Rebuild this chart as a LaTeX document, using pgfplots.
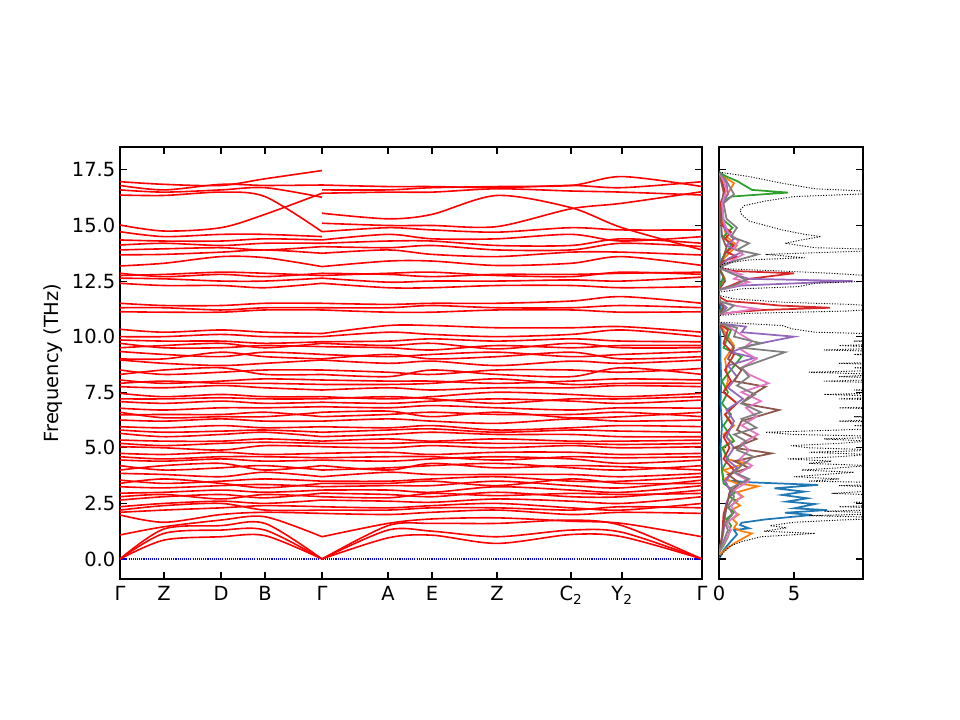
\documentclass[border=0pt]{standalone}
\usepackage{fontspec}
\setmainfont{DejaVu Sans}
\usepackage{pgfplots}
\pgfplotsset{compat=1.18}
\definecolor{cB}{HTML}{1F77B4}
\definecolor{cO}{HTML}{FF7F0E}
\definecolor{cG}{HTML}{2CA02C}
\definecolor{cR}{HTML}{D62728}
\definecolor{cP}{HTML}{9467BD}
\definecolor{cBr}{HTML}{8C564B}
\definecolor{cPk}{HTML}{E377C2}
\definecolor{cGr}{HTML}{7F7F7F}
\pgfplotsset{band/.style={color=red, line width=1.2pt, smooth, no markers},
  pd/.style={line width=1.3pt, no markers}}
\def\bL#1 #2 #3 #4 #5;{\addplot[band] coordinates {(0,#1)(44,#2)(101,#3)(145,#4)(202,#5)};}
\def\bR#1 #2 #3 #4 #5 #6 #7;{\addplot[band] coordinates {(202,#1)(268,#2)(312,#3)(377,#4)(451,#5)(502,#6)(582,#7)};}
\begin{document}
\begin{tikzpicture}
\path[use as bounding box] (0,0) rectangle (720pt,540pt);
\begin{axis}[at={(90pt,105.75pt)}, anchor=south west, scale only axis,
  width=436.5pt, height=324pt,
  xmin=0, xmax=582, ymin=-0.9, ymax=18.53,
  xtick={0,44,101,145,202,268,312,377,451,502,582},
  xticklabels={Γ,Z,D,B,Γ,A,E,Z,C\textsubscript{2},Y\textsubscript{2},Γ},
  ytick={0,2.5,5,7.5,10,12.5,15,17.5},
  yticklabel style={/pgf/number format/.cd, fixed, fixed zerofill, precision=1},
  /pgf/number format/assume math mode=true,
  tick align=inside, major tick length=5pt,
  every tick/.style={black, line width=0.8pt},
  axis line style={line width=0.8pt},
  ylabel={Frequency (THz)},
  label style={font=\fontsize{14.6}{17}\selectfont},
  ticklabel style={font=\fontsize{14.6}{17}\selectfont},
  xticklabel style={yshift=-2pt},
]
\addplot[color=blue, line width=0.8pt, dash pattern=on 0.8pt off 0.8pt] coordinates {(0,0)(582,0)};
% left segment: Gamma Z D B Gamma
\bL 0 0.85 1.0 1.05 0;
\bL 0 1.15 1.3 1.3 0;
\bL 0 1.35 1.5 1.6 0;
\bL 1.08 1.45 1.75 1.9 1.0;
\bL 1.98 1.65 2.0 2.1 2.05;
\bL 2.1 2.2 2.3 2.4 2.35;
\bL 2.2 2.4 2.5 2.2 2.2;
\bL 2.35 2.5 2.6 2.5 2.65;
\bL 2.65 2.8 2.9 2.75 2.96;
\bL 2.8 2.9 2.7 2.9 2.8;
\bL 2.96 3.0 3.1 3.0 3.1;
\bL 3.25 3.2 3.3 3.35 3.25;
\bL 3.4 3.6 3.4 3.2 3.4;
\bL 3.55 3.4 3.5 3.6 3.5;
\bL 3.85 3.8 3.7 3.9 3.7;
\bL 4.0 4.2 4.3 4.0 4.2;
\bL 4.2 4.0 4.1 4.2 4.0;
\bL 4.45 4.4 4.5 4.4 4.45;
\bL 4.6 4.5 4.6 4.6 4.55;
\bL 4.75 4.7 4.8 4.7 4.75;
\bL 5.05 5.0 4.9 5.1 5.05;
\bL 5.2 5.1 5.2 5.25 5.2;
\bL 5.35 5.3 5.3 5.4 5.3;
\bL 5.65 5.5 5.6 5.7 5.5;
\bL 5.8 5.7 5.75 5.8 5.7;
\bL 5.95 5.9 6.0 5.9 5.95;
\bL 6.25 6.2 6.3 6.2 6.2;
\bL 6.48 6.5 6.5 6.6 6.4;
\bL 6.6 6.35 6.4 6.4 6.6;
\bL 6.78 6.7 6.8 6.8 6.85;
\bL 7.08 7.0 7.1 7.0 7.05;
\bL 7.2 7.2 7.25 7.2 7.2;
\bL 7.45 7.3 7.4 7.3 7.3;
\bL 7.75 7.7 7.8 7.7 7.6;
\bL 7.9 8.0 7.9 7.9 7.85;
\bL 8.05 7.9 8.0 8.1 8.05;
\bL 8.3 8.5 8.6 8.3 8.3;
\bL 8.5 8.3 8.4 8.5 8.5;
\bL 8.95 8.8 8.7 8.8 8.95;
\bL 9.0 9.0 9.3 9.1 9.0;
\bL 9.33 9.2 9.1 9.3 9.2;
\bL 9.5 9.6 9.7 9.5 9.7;
\bL 9.7 9.5 9.5 9.6 9.55;
\bL 9.85 9.8 9.8 9.7 9.77;
\bL 10.0 10.0 10.1 10.0 10.0;
\bL 10.33 10.2 10.3 10.2 10.14;
\bL 11.12 11.1 11.1 11.2 11.2;
\bL 11.3 11.3 11.2 11.3 11.3;
\bL 11.5 11.4 11.4 11.5 11.5;
\bL 12.4 12.3 12.3 12.2 12.4;
\bL 12.63 12.6 12.5 12.5 12.63;
\bL 12.75 12.8 12.9 12.85 12.75;
\bL 12.85 12.7 12.8 12.7 12.85;
\bL 13.18 13.3 13.6 13.55 13.15;
\bL 13.68 13.7 13.8 13.9 13.75;
\bL 13.9 13.95 14.0 13.9 14.05;
\bL 14.12 14.2 14.1 14.2 14.2;
\bL 14.35 14.3 14.3 14.4 14.35;
\bL 14.72 14.5 14.6 14.6 14.5;
\bL 15.02 14.75 14.9 15.5 16.45;
\bL 16.37 16.35 16.5 16.3 14.72;
\bL 16.6 16.5 16.6 16.7 16.27;
\bL 16.8 16.6 16.85 16.8 16.82;
\bL 16.97 16.85 16.8 17.1 17.47;
% right segment: Gamma A E Z C2 Y2 Gamma
\bR 0 0.95 1.07 0.7 1.1 1.0 0;
\bR 0 1.3 1.25 1.0 1.3 1.2 0;
\bR 0 1.5 1.6 1.6 1.75 1.5 0;
\bR 1.0 1.6 1.8 1.85 1.7 1.6 1.0;
\bR 2.05 2.0 2.1 2.2 2.0 2.1 2.05;
\bR 2.2 2.2 2.3 2.3 2.2 2.35 2.3;
\bR 2.35 2.3 2.4 2.5 2.3 2.2 2.5;
\bR 2.65 2.6 2.55 2.7 2.6 2.5 2.8;
\bR 2.8 2.75 2.95 2.85 2.95 2.9 2.95;
\bR 2.96 2.9 2.8 3.0 2.8 2.8 3.1;
\bR 3.1 3.1 3.0 3.25 3.1 3.0 3.3;
\bR 3.25 3.3 3.3 3.5 3.3 3.2 3.55;
\bR 3.4 3.4 3.5 3.3 3.6 3.4 3.4;
\bR 3.5 3.5 3.6 3.7 3.5 3.5 3.7;
\bR 3.7 3.9 3.8 3.8 3.8 3.7 3.85;
\bR 4.0 4.1 4.2 4.3 4.1 4.0 4.2;
\bR 4.2 4.0 4.3 4.1 4.2 4.15 4.0;
\bR 4.45 4.4 4.5 4.6 4.5 4.3 4.45;
\bR 4.55 4.6 4.6 4.45 4.6 4.55 4.6;
\bR 4.75 4.8 4.7 4.8 4.8 4.7 4.75;
\bR 5.05 5.0 5.1 5.0 5.1 5.0 5.05;
\bR 5.2 5.2 5.25 5.2 5.2 5.15 5.2;
\bR 5.3 5.4 5.3 5.4 5.3 5.3 5.35;
\bR 5.5 5.6 5.7 5.6 5.6 5.5 5.5;
\bR 5.7 5.8 5.85 5.7 5.8 5.75 5.7;
\bR 5.95 5.9 6.0 5.8 5.9 6.0 5.95;
\bR 6.2 6.3 6.2 6.1 6.3 6.2 6.25;
\bR 6.4 6.5 6.6 6.5 6.5 6.6 6.4;
\bR 6.6 6.65 6.4 6.6 6.35 6.4 6.6;
\bR 6.85 6.8 6.9 6.8 6.7 6.8 6.78;
\bR 7.05 7.0 7.1 7.2 7.1 7.0 7.15;
\bR 7.2 7.3 7.2 7.0 7.2 7.2 7.3;
\bR 7.3 7.2 7.3 7.5 7.4 7.3 7.45;
\bR 7.6 7.7 7.6 7.7 7.7 7.8 7.75;
\bR 7.85 7.85 7.9 8.1 7.85 7.9 7.9;
\bR 8.05 8.0 8.0 7.9 8.0 8.1 8.05;
\bR 8.3 8.2 8.5 8.3 8.2 8.6 8.3;
\bR 8.5 8.4 8.3 8.5 8.5 8.4 8.57;
\bR 8.95 8.8 8.9 8.7 8.9 8.8 8.95;
\bR 9.0 9.2 9.0 9.1 9.3 9.0 9.1;
\bR 9.2 9.1 9.2 9.3 9.1 9.2 9.33;
\bR 9.55 9.5 9.4 9.6 9.5 9.6 9.6;
\bR 9.7 9.6 9.7 9.45 9.7 9.5 9.5;
\bR 9.77 9.8 9.9 9.8 9.9 9.8 9.77;
\bR 10.0 10.2 10.1 10.0 10.1 10.3 10.0;
\bR 10.14 10.5 10.5 10.4 10.4 10.45 10.2;
\bR 11.2 11.1 11.1 11.2 11.2 11.1 11.12;
\bR 11.3 11.3 11.4 11.3 11.3 11.4 11.3;
\bR 11.5 11.45 11.5 11.5 11.6 11.8 11.5;
\bR 12.4 12.2 12.2 12.3 12.3 12.2 12.25;
\bR 12.63 12.45 12.5 12.5 12.55 12.5 12.68;
\bR 12.75 12.85 12.9 12.75 12.7 12.9 12.8;
\bR 12.85 12.8 12.7 12.8 12.8 12.85 12.9;
\bR 13.15 13.4 13.4 13.2 13.3 13.6 13.2;
\bR 13.75 13.9 13.7 13.6 13.8 13.8 13.67;
\bR 14.05 14.0 14.1 13.9 13.9 14.2 14.05;
\bR 14.2 14.3 14.3 14.1 14.1 14.4 14.2;
\bR 14.35 14.6 14.4 14.4 14.6 14.3 14.5;
\bR 14.72 14.9 14.8 14.7 14.9 14.8 14.8;
\bR 15.1 15.0 15.0 14.95 15.75 16.0 16.52;
\bR 15.55 15.3 15.5 16.35 15.8 14.9 13.9;
\bR 16.45 16.5 16.5 16.65 16.55 16.5 16.37;
\bR 16.6 16.6 16.7 16.75 16.8 17.2 16.75;
\bR 16.82 16.75 16.75 16.7 16.8 16.7 16.97;
\end{axis}
\begin{axis}[at={(539.25pt,105.75pt)}, anchor=south west, scale only axis,
  width=108pt, height=324pt,
  xmin=0, xmax=9.6, ymin=-0.9, ymax=18.53,
  xtick={0,5}, ytick={0,2.5,5,7.5,10,12.5,15,17.5}, yticklabels={},
  /pgf/number format/assume math mode=true,
  tick align=inside, major tick length=5pt,
  every tick/.style={black, line width=0.8pt},
  axis line style={line width=0.8pt},
  ticklabel style={font=\fontsize{14.6}{17}\selectfont},
  xticklabel style={yshift=-2pt},
]
\addplot[pd, cB] coordinates {(0,0)(0.3,0.4)(0.8,0.8)(1.2,1.1)(1.0,1.3)(2.0,1.38)(1.4,1.53)(1.5,1.63)(3.1,1.78)(6.2,1.98)(4.4,2.08)(7.2,2.2)(5.0,2.28)(6.4,2.47)(4.5,2.58)(5.9,2.73)(4.2,2.88)(5.7,3.03)(3.7,3.18)(6.6,3.33)(2.0,3.45)(0.3,3.55)(0.2,4)(0.1,5)(0.2,6)(0.1,7)(0.15,8)(0.1,9)(0.1,10)(0,10.6)(0,11)(0.1,11.3)(0,12)(0.05,13)(0,17.4)};
\addplot[pd, cO] coordinates {(0,0.2)(0.4,0.4)(1.0,0.7)(2.2,1.15)(1.5,1.25)(1.0,1.4)(1.2,1.6)(0.9,1.8)(1.3,2.0)(0.8,2.2)(1.4,2.4)(1.0,2.6)(1.6,2.8)(1.2,3.0)(2.6,3.27)(1.2,3.4)(0.4,3.6)(0.8,3.8)(0.3,4.0)(1.8,4.3)(0.5,4.5)(0.3,5)(0.8,5.3)(0.3,5.6)(1.0,6.0)(0.4,6.5)(1.2,7.0)(0.3,7.5)(0.6,8.0)(0.4,9.0)(1.0,9.6)(0.4,10.2)(0,10.6)(0,11.0)(0.5,11.3)(0,11.6)(0,12.2)(0.4,12.6)(0,13.1)(0.3,13.5)(1.2,14.1)(0.5,14.5)(0.3,15)(0.2,16)(1.0,16.9)(0.3,17.2)(0,17.4)};
\addplot[pd, cG] coordinates {(0,0.3)(0.3,0.6)(0.6,1.0)(0.8,1.5)(0.5,1.8)(1.0,2.1)(0.6,2.3)(1.2,2.6)(0.7,2.8)(1.1,3.0)(0.3,3.4)(0.2,4)(0.6,4.5)(0.2,5)(1.0,5.3)(0.3,6)(0.8,6.5)(0.2,7)(0.6,7.5)(0.2,8)(1.5,9.1)(0.3,9.5)(0.8,10.3)(0,10.6)(0,11)(0.3,11.4)(0,11.7)(0,12.2)(0.3,12.7)(0,13.1)(0.2,13.5)(0.8,14.1)(0.3,14.5)(0.9,14.9)(0.2,15.3)(0.1,16.0)(0.8,16.3)(4.6,16.48)(2.2,16.6)(1.7,16.8)(1.2,17.0)(0.5,17.2)(0,17.4)};
\addplot[pd, cR] coordinates {(0,0.3)(0.2,1)(0.3,2)(0.5,2.5)(0.8,3.0)(0.4,3.5)(1.0,4.0)(0.3,4.5)(0.7,5.0)(0.3,5.5)(0.9,6.0)(0.4,6.5)(1.2,7.0)(0.3,7.5)(0.8,8.0)(0.4,8.5)(1.0,9.2)(0.3,9.7)(0.6,10.3)(0,10.6)(0,11.0)(1.0,11.1)(3.0,11.2)(7.4,11.3)(4.0,11.4)(2.5,11.5)(0.5,11.6)(0,11.8)(0,12.1)(0.8,12.3)(1.5,12.5)(2.0,12.6)(5.0,12.85)(1.0,12.95)(0,13.1)(0.3,13.4)(1.2,13.6)(0.5,13.8)(1.0,14.1)(0.4,14.4)(0.8,14.7)(0.2,15)(0.1,16)(0.4,16.5)(0.2,17)(0,17.4)};
\addplot[pd, cP] coordinates {(0,0.3)(0.3,1.2)(0.5,2.5)(0.8,3.0)(0.4,3.5)(1.2,4.1)(0.5,4.5)(1.0,5.0)(0.5,5.5)(1.0,6.2)(0.5,6.7)(1.6,7.2)(0.6,7.7)(1.2,8.2)(0.6,8.7)(2.4,9.05)(0.8,9.3)(2.0,9.6)(5.0,10.0)(1.5,10.2)(1.8,10.45)(0,10.6)(0,11)(0.5,11.3)(0,11.6)(0,12.1)(1.5,12.3)(8.9,12.5)(2.0,12.6)(1.0,12.8)(0,13.1)(0.6,13.5)(1.5,13.8)(0.5,14.1)(1.0,14.4)(0.4,14.8)(0.3,15.3)(0.2,16)(0.6,16.4)(0.5,16.9)(0,17.4)};
\addplot[pd, cBr] coordinates {(0,0.3)(0.2,1)(0.4,2)(0.7,3.0)(1.4,3.4)(0.6,3.8)(2.0,4.1)(1.0,4.4)(3.5,4.75)(1.0,5.0)(2.5,5.4)(1.2,5.8)(1.5,6.2)(4.0,6.7)(1.5,7.0)(2.0,7.3)(3.1,7.75)(1.0,8.0)(1.5,8.5)(0.6,9.0)(1.0,9.5)(0.4,10.0)(0,10.6)(0,11)(0.3,11.3)(0,11.6)(0,12.1)(0.4,12.5)(0,13.1)(0.3,13.6)(0.5,14)(0.2,14.5)(0.1,15.5)(0.3,16.5)(0,17.4)};
\addplot[pd, cPk] coordinates {(0,0.3)(0.4,0.8)(0.8,1.3)(0.5,1.6)(1.2,2.0)(0.8,2.4)(1.5,2.8)(1.0,3.1)(2.0,3.5)(1.2,3.8)(2.2,4.2)(1.4,4.5)(2.0,4.9)(1.5,5.2)(2.6,5.6)(1.5,6.0)(2.5,6.4)(1.8,6.8)(2.8,7.1)(1.5,7.5)(3.3,7.9)(2.0,8.3)(1.5,8.6)(2.5,9.0)(1.5,9.4)(2.2,9.8)(1.2,10.2)(0.5,10.5)(0,10.6)(0,11.0)(1.0,11.1)(2.5,11.25)(1.0,11.4)(0,11.6)(0,12.1)(1.2,12.3)(2.0,12.45)(1.0,12.6)(1.5,12.8)(0,13.1)(0.8,13.4)(1.6,13.7)(1.0,14.0)(1.3,14.3)(0.6,14.7)(0.3,15.2)(0.2,16)(0.5,16.6)(0.3,17)(0,17.4)};
\addplot[pd, cGr] coordinates {(0,0.3)(0.3,0.8)(0.6,1.3)(0.4,1.6)(0.9,2.0)(0.6,2.4)(1.0,2.8)(0.8,3.2)(2.0,3.6)(1.0,3.9)(1.5,4.2)(2.3,4.6)(1.2,4.9)(1.8,5.3)(1.0,5.6)(2.5,5.9)(1.5,6.3)(2.8,6.6)(1.5,7.0)(2.4,7.4)(1.2,7.8)(2.0,8.2)(1.5,8.6)(4.4,9.3)(1.5,9.5)(2.8,9.7)(1.0,10.0)(1.2,10.4)(0,10.6)(0,11)(0.6,11.2)(1.0,11.4)(0,11.6)(0,12.1)(1.0,12.3)(1.8,12.55)(1.2,12.75)(0,13.1)(1.0,13.4)(2.6,13.7)(1.2,13.9)(2.0,14.2)(0.8,14.5)(1.2,14.9)(0.5,15.3)(0.3,16)(1.0,16.4)(0.5,17.0)(0,17.4)};
\addplot[black, line width=0.7pt, dash pattern=on 0.8pt off 1.2pt] coordinates {(0,0)(0.3,0.3)(0.8,0.6)(1.6,0.8)(2.8,1.0)(6.4,1.15)(3.0,1.25)(4.5,1.4)(3.4,1.5)(5.0,1.65)(8,1.75)(12,1.85)(6,1.95)(12,2.05)(7,2.15)(13,2.25)(8,2.35)(12,2.45)(9,2.55)(14,2.65)(10,2.75)(12,2.85)(7.5,2.95)(10,3.05)(12,3.2)(8,3.3)(14,3.4)(6,3.5)(8,3.6)(5,3.7)(7,3.8)(9,3.9)(5.5,4.0)(8,4.1)(10,4.2)(6,4.3)(7.5,4.4)(4.6,4.5)(8,4.6)(10,4.7)(6,4.8)(11,4.9)(6,5.0)(4.8,5.1)(8,5.2)(10,5.3)(7,5.4)(12,5.5)(5,5.6)(3.1,5.7)(8,5.8)(12,5.9)(9,6.0)(14,6.1)(8,6.2)(12,6.3)(9,6.4)(14,6.5)(10,6.6)(13,6.7)(8,6.8)(14,6.9)(11,7.0)(15,7.1)(8,7.2)(12,7.3)(7,7.4)(13,7.5)(9,7.6)(14,7.7)(10,7.8)(12,7.9)(7,8.0)(13,8.1)(8,8.2)(11,8.3)(6,8.4)(12,8.5)(9,8.6)(13,8.7)(8,8.8)(14,8.9)(10,9.0)(12,9.1)(9,9.2)(13,9.3)(7,9.4)(12,9.5)(8,9.6)(13,9.7)(9,9.8)(14,9.9)(10,10.0)(12,10.1)(6.4,10.2)(4.9,10.35)(4.2,10.5)(1.5,10.6)(0,10.65)(0,10.95)(2,11.05)(8.5,11.15)(12,11.3)(8.8,11.45)(4.2,11.55)(1,11.7)(0,11.85)(0,12.0)(1.5,12.15)(5.3,12.25)(6.4,12.4)(12,12.55)(11,12.7)(7.5,12.85)(4.2,12.95)(0.5,13.05)(0,13.15)(0.4,13.3)(2.0,13.45)(5.7,13.55)(3.1,13.7)(12,13.9)(6.4,14.0)(4.4,14.2)(5.5,14.35)(6.8,14.5)(5.7,14.6)(4.2,14.8)(3.1,15.0)(2.0,15.2)(1.5,15.5)(1.4,15.7)(1.7,15.9)(3.1,16.1)(5.0,16.3)(12,16.48)(6.4,16.65)(4.2,16.9)(2.0,17.2)(0,17.4)};
\end{axis}
\end{tikzpicture}
\end{document}
